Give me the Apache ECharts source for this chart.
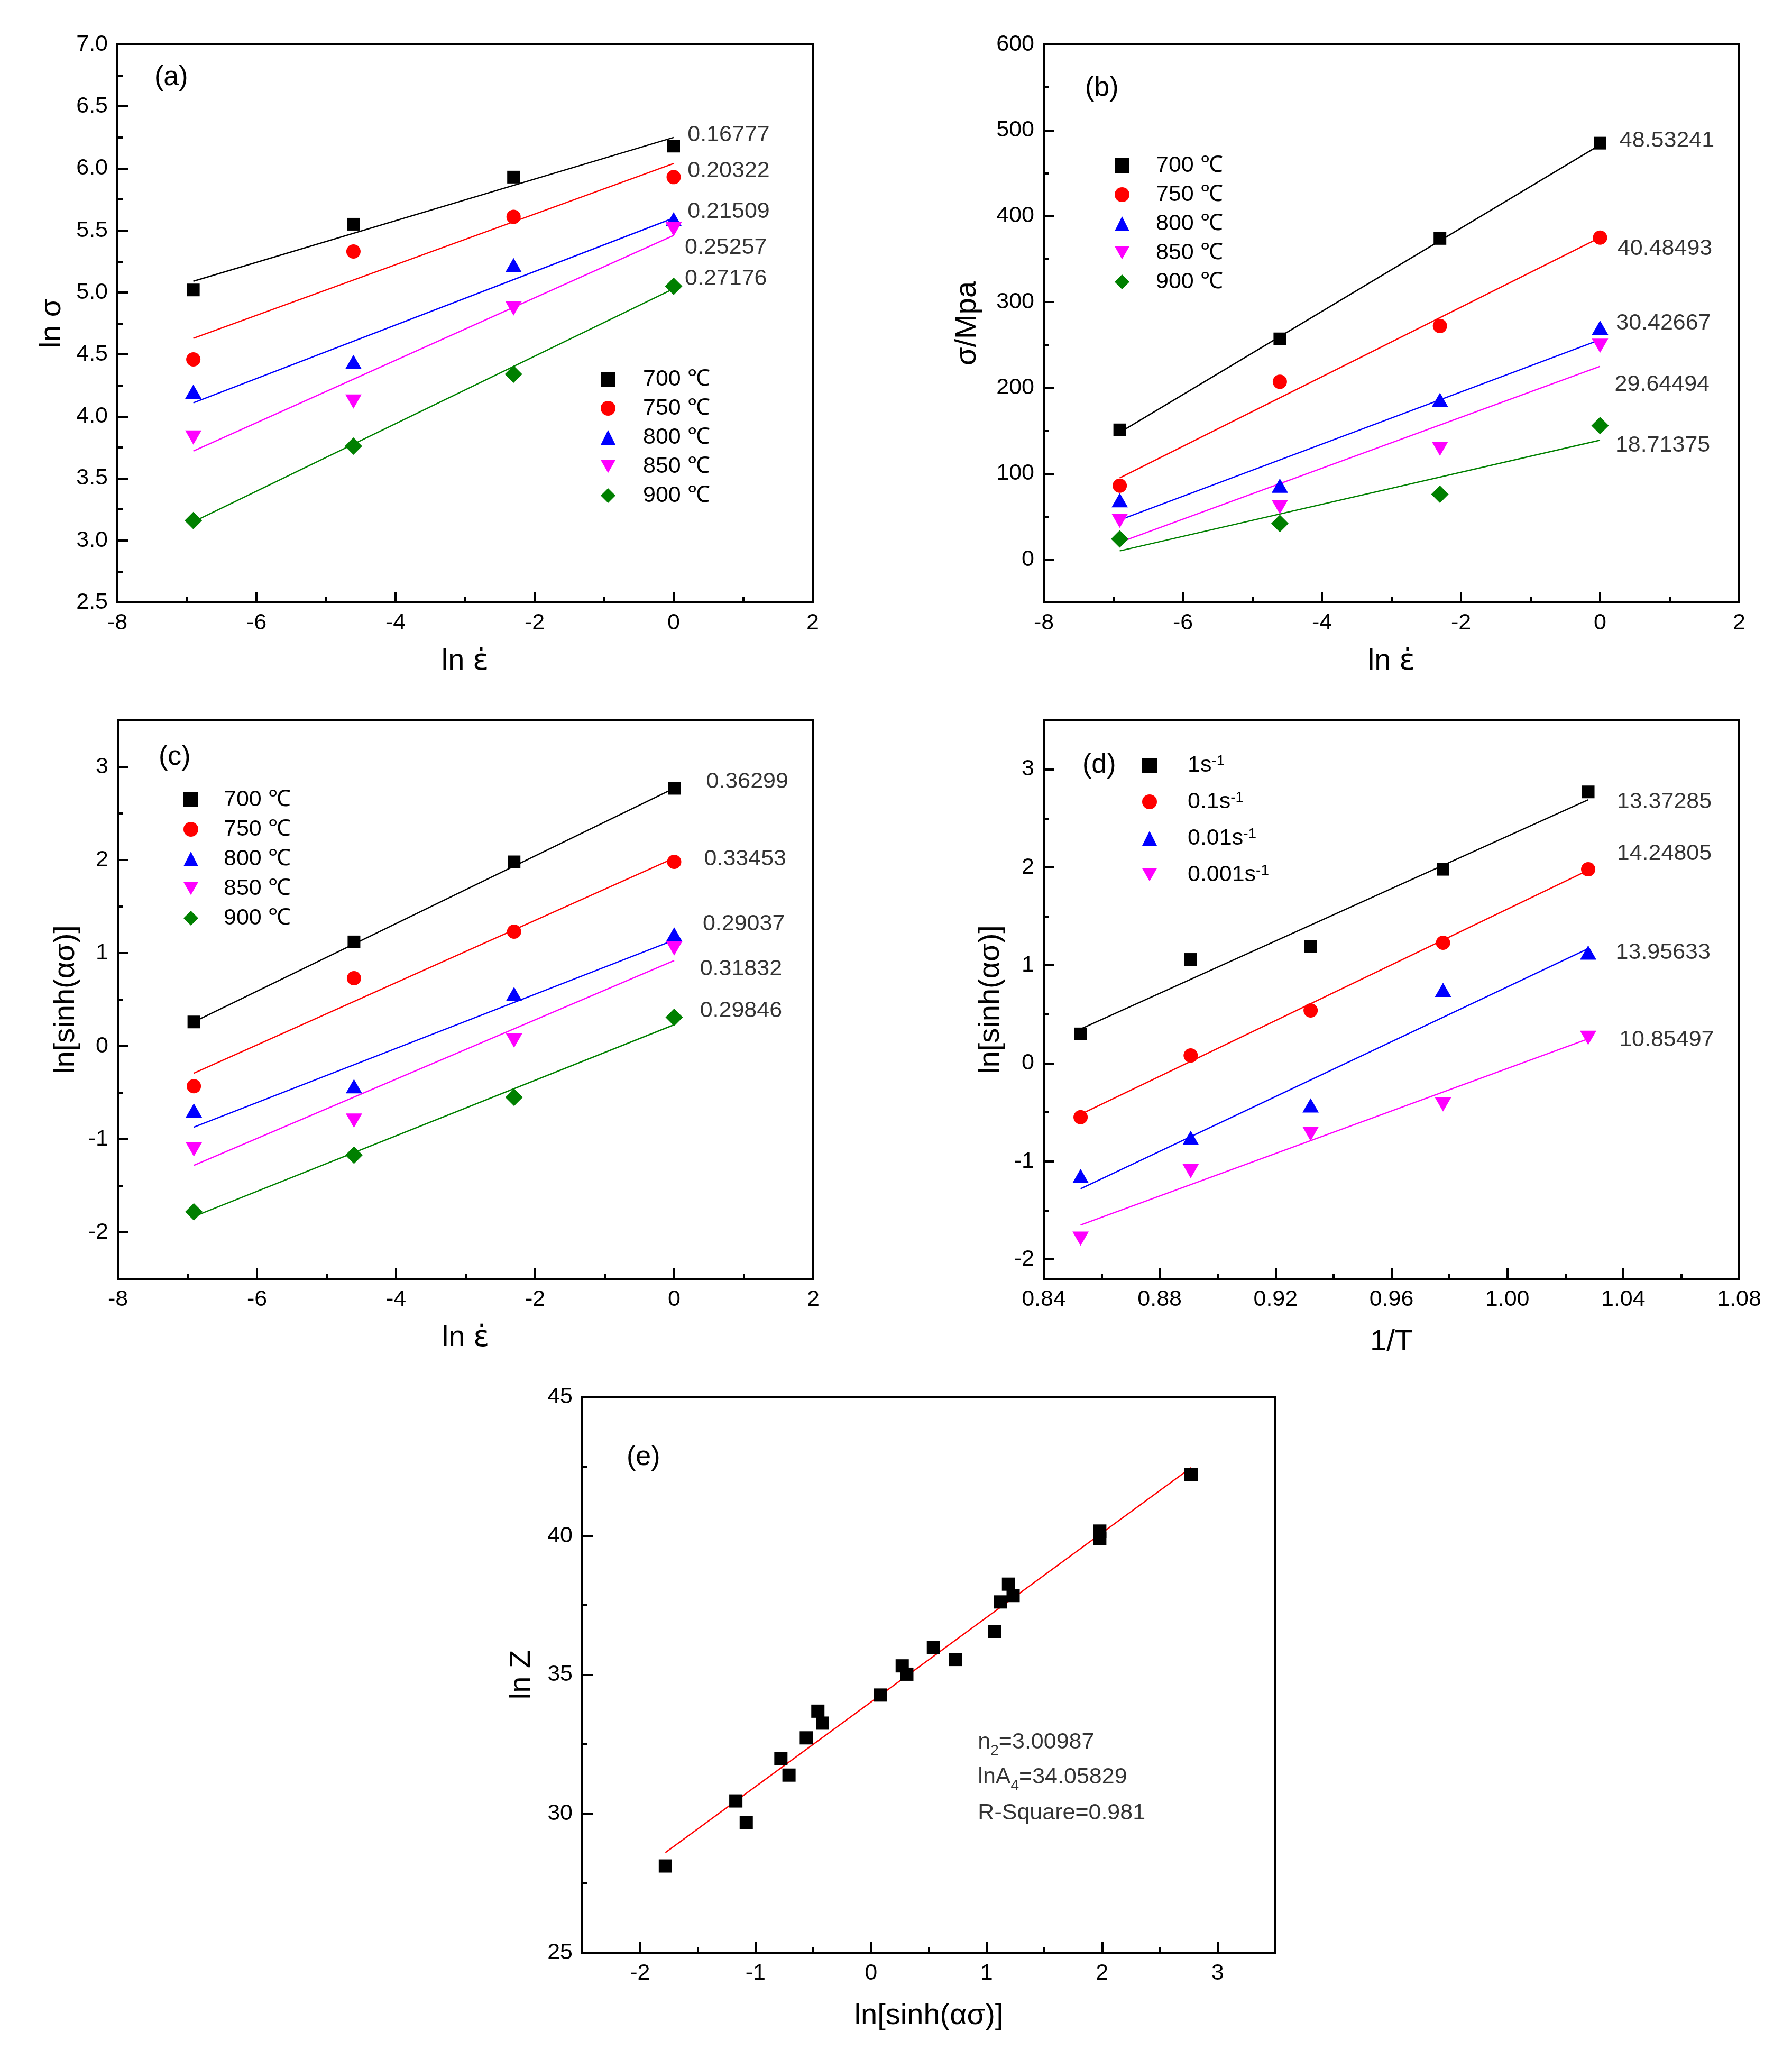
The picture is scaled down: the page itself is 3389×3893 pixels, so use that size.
<!DOCTYPE html>
<html><head><meta charset="utf-8">
<script src="https://cdn.jsdelivr.net/npm/echarts@6/dist/echarts.min.js"></script>
<style>html,body{margin:0;padding:0;background:#fff}#c{width:3389px;height:3893px}</style>
</head><body><div id="c"></div><script>
// ---------- data ----------
const lnRate = [-6.9078, -4.6052, -2.3026, 0];
const lnRateFitX = [-6.9078, 0];
const tempNames = ['700 ℃', '750 ℃', '800 ℃', '850 ℃', '900 ℃'];

// (a) ln sigma vs ln strain rate
const lnSigma = [
  [5.02, 5.55, 5.93, 6.18],
  [4.46, 5.33, 5.61, 5.93],
  [4.20, 4.44, 5.22, 5.59],
  [3.83, 4.12, 4.87, 5.51],
  [3.16, 3.76, 4.34, 5.05]
];
const lnSigmaFit = [[5.09, 6.25], [4.63, 6.04], [4.11, 5.60], [3.72, 5.46], [3.15, 5.03]];
const lnSigmaSlopes = ['0.16777', '0.20322', '0.21509', '0.25257', '0.27176'];

// (b) sigma vs ln strain rate
const sigma = [
  [151, 257, 374, 485],
  [86, 207, 272, 375],
  [69, 86, 186, 270],
  [45, 61, 129, 249],
  [24, 42, 76, 156]
];
const sigmaFit = [[148, 483], [95, 375], [46, 256], [20, 225], [10, 139]];
const sigmaSlopes = ['48.53241', '40.48493', '30.42667', '29.64494', '18.71375'];

// (c) ln[sinh(a sigma)] vs ln strain rate
const lnSinhC = [
  [0.26, 1.12, 1.98, 2.77],
  [-0.43, 0.73, 1.23, 1.98],
  [-0.69, -0.43, 0.56, 1.20],
  [-1.11, -0.80, 0.06, 1.05],
  [-1.78, -1.17, -0.55, 0.31]
];
const lnSinhCFit = [[0.26, 2.77], [-0.29, 2.02], [-0.87, 1.14], [-1.28, 0.92], [-1.83, 0.23]];
const lnSinhCSlopes = ['0.36299', '0.33453', '0.29037', '0.31832', '0.29846'];

// (d) ln[sinh(a sigma)] vs 1/T
const rateNames = ['1s-1', '0.1s-1', '0.01s-1', '0.001s-1'];
const invT = [0.8527, 0.8907, 0.9321, 0.9778, 1.0279];
const invTFitX = [0.8527, 1.0279];
const lnSinhD = [
  [0.30, 1.06, 1.19, 1.98, 2.77],
  [-0.55, 0.08, 0.54, 1.23, 1.98],
  [-1.15, -0.76, -0.43, 0.75, 1.13],
  [-1.79, -1.10, -0.72, -0.42, 0.26]
];
const lnSinhDFit = [[0.35, 2.69], [-0.52, 1.97], [-1.28, 1.17], [-1.65, 0.25]];
const lnSinhDSlopes = ['13.37285', '14.24805', '13.95633', '10.85497'];

// (e) ln Z vs ln[sinh(a sigma)]
const lnSinhE = [-1.78, -1.17, -1.08, -0.78, -0.71, -0.56, -0.46, -0.42, 0.08, 0.27, 0.31, 0.54, 0.73, 1.07, 1.12, 1.19, 1.23, 1.98, 1.98, 2.77];
const lnZ = [28.12, 30.46, 29.68, 31.99, 31.39, 32.73, 33.69, 33.26, 34.27, 35.32, 35.02, 35.99, 35.55, 36.56, 37.62, 38.26, 37.85, 40.17, 39.89, 42.21];
const lnZFitX = [-1.78, 2.77];
const lnZFitY = [28.6, 42.45];
const eTexts = ['n{sub|2}=3.00987', 'lnA{sub|4}=34.05829', 'R-Square=0.981'];

// ticks
const xTicksRate = [-8, -6, -4, -2, 0, 2];
const xMinorRate = [-7, -5, -3, -1, 1];
const yTicksA = [2.5, 3.0, 3.5, 4.0, 4.5, 5.0, 5.5, 6.0, 6.5, 7.0];
const yMinorA = [2.75, 3.25, 3.75, 4.25, 4.75, 5.25, 5.75, 6.25, 6.75];
const yTicksB = [0, 100, 200, 300, 400, 500, 600];
const yMinorB = [-50, 50, 150, 250, 350, 450, 550];
const yTicksC = [-2, -1, 0, 1, 2, 3];
const yMinorC = [-1.5, -0.5, 0.5, 1.5, 2.5];
const xTicksD = [0.84, 0.88, 0.92, 0.96, 1.00, 1.04, 1.08];
const xMinorD = [0.86, 0.90, 0.94, 0.98, 1.02, 1.06];
const yTicksD = [-2, -1, 0, 1, 2, 3];
const yMinorD = [-1.5, -0.5, 0.5, 1.5, 2.5];
const xTicksE = [-2, -1, 0, 1, 2, 3];
const xMinorE = [-1.5, -0.5, 0.5, 1.5, 2.5];
const yTicksE = [25, 30, 35, 40, 45];
const yMinorE = [27.5, 32.5, 37.5, 42.5];

// annotation anchor positions (data coordinates)
const posA = [[0.20, 6.27], [0.20, 5.98], [0.20, 5.65], [0.16, 5.36], [0.16, 5.11]];
const posB = [[0.28, 488], [0.25, 362], [0.23, 275], [0.21, 204], [0.22, 133]];
const posC = [[0.46, 2.84], [0.43, 2.01], [0.41, 1.31], [0.37, 0.83], [0.37, 0.38]];
const posD = [[1.0378, 2.67], [1.0378, 2.14], [1.0374, 1.13], [1.0386, 0.24]];
const posE = [[0.925, 32.57], [0.925, 31.31], [0.925, 30.02]];

// ---------- styles ----------
const FONT = "'Liberation Sans', Arial, Helvetica, sans-serif";
const COLORS = ['#000000', '#ff0000', '#0000ff', '#ff00ff', '#008000'];
const SYMBOLS = ['rect', 'circle', 'triangle', 'triangle', 'diamond'];
const ROTATE = [0, 0, 0, 180, 0];
const SIZES = [24, 27, [31, 27], [31, 27], 33];
const LEGEND_ICONS = ['rect', 'circle', 'triangle', 'path://M0,0L31,0L15.5,27Z', 'diamond'];

const grids = [
  {left: 222, top: 84, width: 1315, height: 1055},
  {left: 1974, top: 84, width: 1315, height: 1055},
  {left: 223, top: 1362, width: 1315, height: 1056},
  {left: 1974, top: 1362, width: 1315, height: 1056},
  {left: 1101, top: 2641, width: 1311, height: 1051}
].map(g => Object.assign(g, {show: true, borderColor: '#000', borderWidth: 4, backgroundColor: 'transparent'}));

const xAxes = [], yAxes = [];
function addAxis(list, dim, gi, o) {
  const pos = dim === 'x' ? 'bottom' : 'left';
  list.push({
    type: 'value', gridIndex: gi, min: o.min, max: o.max, position: pos,
    name: o.name, nameLocation: 'middle', nameGap: o.gap,
    nameTextStyle: {fontSize: 56, fontFamily: FONT, color: '#000',
      rich: {e: {fontSize: 56, fontFamily: "'DejaVu Sans', 'Noto Sans', sans-serif", color: '#000'}}},
    axisLine: {show: true, onZero: false, lineStyle: {color: '#000', width: 4}},
    axisTick: {show: true, inside: true, length: 20, customValues: o.major, lineStyle: {color: '#000', width: 4}},
    axisLabel: {show: true, customValues: o.major, formatter: o.fmt, fontSize: 43, fontFamily: FONT, color: '#000', margin: 18},
    splitLine: {show: false}, minorTick: {show: false}
  });
  list.push({
    type: 'value', gridIndex: gi, min: o.min, max: o.max, position: pos,
    axisLine: {show: false, onZero: false},
    axisTick: {show: true, inside: true, length: 10, customValues: o.minor, lineStyle: {color: '#000', width: 4}},
    axisLabel: {show: false}, splitLine: {show: false}, minorTick: {show: false}
  });
}
const EPS = 'ln {e|\u03B5\u0307}';
addAxis(xAxes, 'x', 0, {min: -8, max: 2, major: xTicksRate, minor: xMinorRate, name: EPS, gap: 84});
addAxis(yAxes, 'y', 0, {min: 2.5, max: 7.0, major: yTicksA, minor: yMinorA, name: 'ln \u03C3', gap: 95, fmt: v => v.toFixed(1)});
addAxis(xAxes, 'x', 1, {min: -8, max: 2, major: xTicksRate, minor: xMinorRate, name: EPS, gap: 84});
addAxis(yAxes, 'y', 1, {min: -50, max: 600, major: yTicksB, minor: yMinorB, name: '\u03C3/Mpa', gap: 116});
addAxis(xAxes, 'x', 2, {min: -8, max: 2, major: xTicksRate, minor: xMinorRate, name: EPS, gap: 84});
addAxis(yAxes, 'y', 2, {min: -2.5, max: 3.5, major: yTicksC, minor: yMinorC, name: 'ln[sinh(\u03B1\u03C3)]', gap: 70});
addAxis(xAxes, 'x', 3, {min: 0.84, max: 1.08, major: xTicksD, minor: xMinorD, name: '1/T', gap: 92, fmt: v => v.toFixed(2)});
addAxis(yAxes, 'y', 3, {min: -2.2, max: 3.5, major: yTicksD, minor: yMinorD, name: 'ln[sinh(\u03B1\u03C3)]', gap: 72});
addAxis(xAxes, 'x', 4, {min: -2.5, max: 3.5, major: xTicksE, minor: xMinorE, name: 'ln[sinh(\u03B1\u03C3)]', gap: 92});
addAxis(yAxes, 'y', 4, {min: 25, max: 45, major: yTicksE, minor: yMinorE, name: 'ln Z', gap: 86});

const series = [];
function fitLine(gi, xs, ys, color) {
  series.push({type: 'line', xAxisIndex: 2 * gi, yAxisIndex: 2 * gi, data: xs.map((x, i) => [x, ys[i]]),
    showSymbol: false, symbol: 'none', silent: true, z: 2, lineStyle: {color: color, width: 2.5}});
}
function points(gi, name, xs, ys, k, size) {
  series.push({type: 'scatter', name: name, xAxisIndex: 2 * gi, yAxisIndex: 2 * gi,
    data: xs.map((x, i) => [x, ys[i]]), symbol: SYMBOLS[k], symbolRotate: ROTATE[k],
    symbolSize: size || SIZES[k], itemStyle: {color: COLORS[k], opacity: 1}, silent: true, z: 3});
}
function notes(gi, texts, pos, extra) {
  series.push({type: 'scatter', xAxisIndex: 2 * gi, yAxisIndex: 2 * gi, symbolSize: 0, silent: true, z: 4,
    itemStyle: {color: 'transparent'},
    data: texts.map((t, i) => ({name: t, value: pos[i]})),
    label: Object.assign({show: true, position: 'right', distance: 0, formatter: '{b}', fontSize: 43,
      fontFamily: FONT, color: '#000'}, extra || {})});
}

// (a)
lnSigma.forEach((ys, k) => { fitLine(0, lnRateFitX, lnSigmaFit[k], COLORS[k]); points(0, tempNames[k], lnRate, ys, k); });
notes(0, lnSigmaSlopes, posA);
// (b)
sigma.forEach((ys, k) => { fitLine(1, lnRateFitX, sigmaFit[k], COLORS[k]); points(1, tempNames[k], lnRate, ys, k); });
notes(1, sigmaSlopes, posB);
// (c)
lnSinhC.forEach((ys, k) => { fitLine(2, lnRateFitX, lnSinhCFit[k], COLORS[k]); points(2, tempNames[k], lnRate, ys, k); });
notes(2, lnSinhCSlopes, posC);
// (d)
lnSinhD.forEach((ys, k) => { fitLine(3, invTFitX, lnSinhDFit[k], COLORS[k]); points(3, rateNames[k], invT, ys, k); });
notes(3, lnSinhDSlopes, posD);
// (e)
fitLine(4, lnZFitX, lnZFitY, '#ff0000');
points(4, 'lnZ', lnSinhE, lnZ, 0, 25);
notes(4, eTexts, posE, {lineHeight: 60, rich: {sub: {fontSize: 28, lineHeight: 28, verticalAlign: 'bottom', fontFamily: FONT, color: '#000'}}});

function legendAt(names, left, top, gap, pad, extra) {
  return Object.assign({
    data: names.map((n, k) => ({name: n, icon: LEGEND_ICONS[k]})),
    orient: 'vertical', left: left, top: top, itemWidth: 28, itemHeight: 28, itemGap: gap,
    selectedMode: false, padding: 0, symbolRotate: 0,
    textStyle: {fontSize: 43, fontFamily: FONT, color: '#000', lineHeight: 44, padding: [0, 0, 0, pad]}
  }, extra || {});
}
const legends = [
  legendAt(tempNames, 1136, 695, 11, 47),
  legendAt(tempNames, 2108, 291, 11, 45),
  legendAt(tempNames, 347, 1490, 12, 43),
  legendAt(rateNames, 2160, 1425, 25, 53, {
    formatter: n => n.replace(/s-1$/, 's{sup|-1}'),
    textStyle: {fontSize: 43, fontFamily: FONT, color: '#000', lineHeight: 44, padding: [0, 0, 0, 53],
      rich: {sup: {fontSize: 28, lineHeight: 28, verticalAlign: 'top', fontFamily: FONT, color: '#000'}}}
  })
];

function panelLabel(t, x, y) {
  return {type: 'text', x: x, y: y, z: 10, style: {text: t, fontSize: 52, fontFamily: FONT, fill: '#000', verticalAlign: 'middle'}};
}

const chart = echarts.init(document.getElementById('c'), null, {renderer: 'canvas'});
chart.setOption({
  backgroundColor: '#fff',
  animation: false,
  grid: grids,
  xAxis: xAxes,
  yAxis: yAxes,
  legend: legends,
  series: series,
  graphic: [
    panelLabel('(a)', 292, 147),
    panelLabel('(b)', 2052, 167),
    panelLabel('(c)', 300, 1432),
    panelLabel('(d)', 2047, 1447),
    panelLabel('(e)', 1185, 2756)
  ]
});
</script></body></html>
